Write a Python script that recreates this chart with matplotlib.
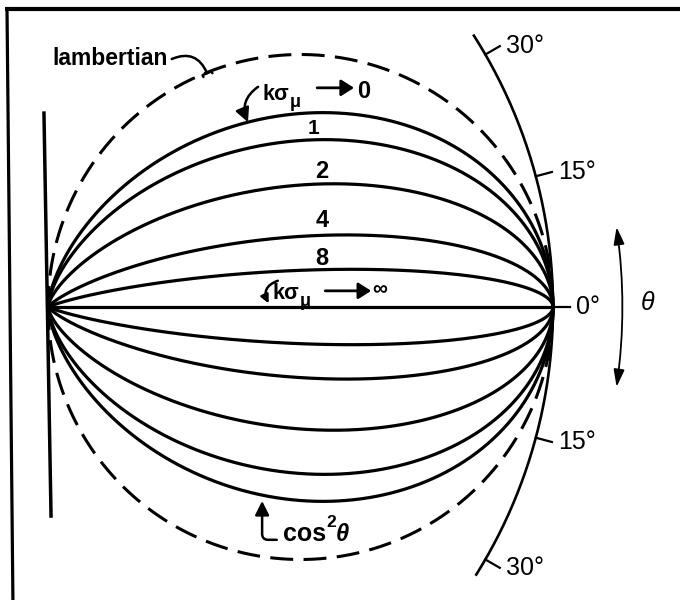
import numpy as np
import matplotlib.pyplot as plt
from matplotlib.patches import FancyArrowPatch

plt.rcParams['font.family'] = ['Liberation Sans', 'DejaVu Sans']

# roughness k*sigma_mu for the solid curves (the infinite case is the flat line)
ksm = [0, 1, 2, 4, 8]
# curve labels and where they sit (x, baseline y)
curve_labels = ['2', '4', '8']
curve_label_x = [0.543, 0.543, 0.543]
curve_label_y = [0.255, 0.158, 0.083]
# angle marks on the outer arc, degrees
tick_deg = [30, 15, 0, -15, -30]
arc_deg = [-32, 32.5]
theta_arrow_deg = 8
theta_arrow_r = 1.137

th = np.radians(np.linspace(-90, 90, 1441))


def pattern(k):
    # cos^2 law damped by the surface roughness
    return np.cos(th)**2 * np.exp(-0.5 * (k * np.sin(th))**2)


def polar_xy(r, t):
    return r * np.cos(t), r * np.sin(t)


def leader(xy, xytext, conn, size=0.6):
    ax.annotate('', xy=xy, xytext=xytext,
                arrowprops=dict(arrowstyle='-|>,head_length=%.2f,head_width=%.2f'
                                % (size, size / 2),
                                lw=1.8, color='k', mutation_scale=14,
                                connectionstyle=conn, shrinkA=0, shrinkB=0))


fig = plt.figure(figsize=(6.8, 6.0), dpi=100)
ax = fig.add_axes([0, 0, 1, 1])
ax.set_xlim(-48 / 505, 632 / 505)
ax.set_ylim(-293 / 505, 307 / 505)
ax.axis('off')

# frame left over from the page: top rule and left rule
ax.plot([0.007, 1.0], [0.985, 0.985], color='k', lw=3.0, transform=ax.transAxes,
        solid_capstyle='butt')
ax.plot([0.0103, 0.019], [0.985, 0.0], color='k', lw=2.3, transform=ax.transAxes)

# the surface
ax.plot([-0.008, 0.006], [0.384, -0.414], color='k', lw=2.5)

# lambertian reference, r = cos(theta)
x, y = polar_xy(np.cos(th), th)
ax.plot(x, y, color='k', lw=2.2, linestyle=(0, (7.5, 3.4)), dash_capstyle='butt')

# scattering patterns
for k in ksm:
    x, y = polar_xy(pattern(k), th)
    ax.plot(x, y, color='k', lw=2.3, solid_joinstyle='round')
# k*sigma_mu -> infinity collapses onto the axis
ax.plot([0, 1], [0, 0], color='k', lw=2.3)

# outer unit arc with angle ticks
t = np.radians(np.linspace(arc_deg[0], arc_deg[1], 200))
x, y = polar_xy(np.ones_like(t), t)
ax.plot(x, y, color='k', lw=1.9)
for a in tick_deg:
    ta = np.radians(a)
    ax.plot([np.cos(ta), 1.033 * np.cos(ta)], [np.sin(ta), 1.033 * np.sin(ta)],
            color='k', lw=1.6)
    ax.text(1.033 * np.cos(ta) + 0.012, 1.033 * np.sin(ta), '%d°' % abs(a),
            ha='left', va='center', fontsize=18)

# theta direction arrow
ta = np.radians(theta_arrow_deg)
arr = FancyArrowPatch((theta_arrow_r * np.cos(ta), theta_arrow_r * np.sin(ta)),
                      (theta_arrow_r * np.cos(ta), -theta_arrow_r * np.sin(ta)),
                      arrowstyle='<|-|>,head_length=0.8,head_width=0.25',
                      connectionstyle='arc3,rad=-0.07', mutation_scale=13,
                      lw=1.3, color='k', shrinkA=0, shrinkB=0)
ax.add_patch(arr)
ax.text(1.188, 0.008, 'θ', ha='center', va='center', fontsize=18, style='italic')

# labels
bold = dict(fontweight='bold', color='k')
ax.text(0.008, 0.479, 'lambertian', fontsize=16.5, va='baseline', **bold)
ax.annotate('', xy=(0.315, 0.463), xytext=(0.245, 0.491),
            arrowprops=dict(arrowstyle='-[,widthB=0.35,lengthB=0.15', lw=1.8,
                            color='k', connectionstyle='arc3,rad=-0.5',
                            shrinkA=0, shrinkB=0))

ax.text(0.424, 0.410, 'kσ', fontsize=15.5, va='baseline', **bold)
ax.text(0.478, 0.396, 'μ', fontsize=13, va='baseline', **bold)
ax.annotate('', xy=(0.606, 0.434), xytext=(0.533, 0.434),
            arrowprops=dict(arrowstyle='-|>,head_length=0.55,head_width=0.35',
                            lw=2.0, color='k', mutation_scale=14,
                            shrinkA=0, shrinkB=0))
ax.text(0.612, 0.414, '0', fontsize=17, va='baseline', **bold)
leader((0.396, 0.366), (0.416, 0.436), 'arc3,rad=0.4')

ax.text(0.525, 0.354, '1', fontsize=15, ha='center', va='center', **bold)
for lab, lx, ly in zip(curve_labels, curve_label_x, curve_label_y):
    ax.text(lx, ly, lab, fontsize=17, ha='center', va='baseline', **bold)

ax.text(0.444, 0.016, 'kσ', fontsize=15.5, va='baseline', **bold)
ax.text(0.498, 0.002, 'μ', fontsize=13, va='baseline', **bold)
ax.annotate('', xy=(0.640, 0.032), xytext=(0.549, 0.032),
            arrowprops=dict(arrowstyle='-|>,head_length=0.55,head_width=0.35',
                            lw=2.0, color='k', mutation_scale=14,
                            shrinkA=0, shrinkB=0))
ax.text(0.643, 0.034, '∞', fontsize=15, va='center', **bold)
leader((0.437, 0.007), (0.455, 0.052), 'arc3,rad=0.55', size=0.35)

ax.text(0.465, -0.463, 'cos', fontsize=18, va='baseline', **bold)
ax.text(0.552, -0.436, '2', fontsize=12.5, va='baseline', **bold)
ax.text(0.570, -0.463, 'θ', fontsize=17, va='baseline', style='italic', **bold)
leader((0.424, -0.384), (0.453, -0.461), 'angle,angleA=180,angleB=90,rad=6')

fig.savefig('out.png', dpi=100, facecolor='white')
